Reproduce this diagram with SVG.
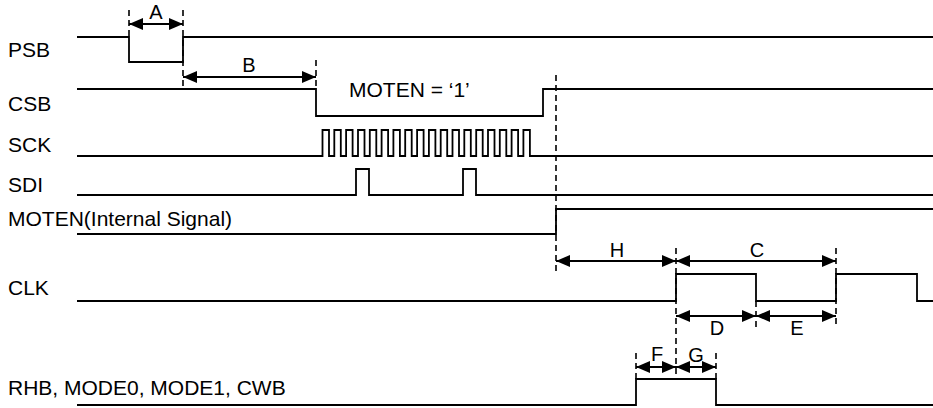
<svg xmlns="http://www.w3.org/2000/svg" width="933" height="408" viewBox="0 0 933 408">
<style>
.sig{fill:none;stroke:#000;stroke-width:1.8}
.dash{fill:none;stroke:#000;stroke-width:1.6;stroke-dasharray:6 4}
.dim{fill:none;stroke:#000;stroke-width:1.8;marker-start:url(#ah);marker-end:url(#ah)}
.lbl{font-family:"Liberation Sans",Arial,sans-serif;font-size:21px;fill:#000}
.let{font-family:"Liberation Sans",Arial,sans-serif;font-size:20px;fill:#000;text-anchor:middle}
</style>
<defs>
<marker id="ah" markerUnits="userSpaceOnUse" markerWidth="14" markerHeight="12" refX="14" refY="6" orient="auto-start-reverse">
<path d="M0,0 L14,6 L0,12 z" fill="#000"/>
</marker>
</defs>
<rect width="933" height="408" fill="#fff"/>
<g id="PSB">
<text class="lbl" x="8" y="56.5">PSB</text>
<path class="sig" d="M77,37 H129 V62 H183 V37 H933"/>
</g>
<g id="CSB">
<text class="lbl" x="8" y="111">CSB</text>
<path class="sig" d="M77,89 H316 V116 H543 V89 H933"/>
<text class="lbl" x="349" y="97">MOTEN = ‘1’</text>
</g>
<g id="SCK">
<text class="lbl" x="8" y="152">SCK</text>
<path class="sig" d="M77,156 H322.5 V130 H329 V156 H334.3 V130 H340.8 V156 H346.1 V130 H352.6 V156 H358 V130 H364.5 V156 H369.8 V130 H376.3 V156 H381.6 V130 H388.1 V156 H393.4 V130 H399.9 V156 H405.2 V130 H411.7 V156 H417.1 V130 H423.6 V156 H428.9 V130 H435.4 V156 H440.7 V130 H447.2 V156 H452.5 V130 H459 V156 H464.3 V130 H470.8 V156 H476.2 V130 H482.7 V156 H488 V130 H494.5 V156 H499.8 V130 H506.3 V156 H511.6 V130 H518.1 V156 H523.4 V130 H529.9 V156 H933"/>
</g>
<g id="SDI">
<text class="lbl" x="8" y="192">SDI</text>
<path class="sig" d="M77,195 H356 V169 H369 V195 H463 V169 H476 V195 H933"/>
</g>
<g id="MOTEN">
<text class="lbl" x="8" y="226">MOTEN(Internal Signal)</text>
<path class="sig" d="M77,234 H556 V209 H933"/>
</g>
<g id="CLK">
<text class="lbl" x="8" y="295">CLK</text>
<path class="sig" d="M77,301 H676 V274 H756 V301 H836 V274 H917 V301 H933"/>
</g>
<g id="RHB">
<text class="lbl" x="8" y="395">RHB, MODE0, MODE1, CWB</text>
<path class="sig" d="M77,405 H636 V379 H716 V405 H933"/>
</g>
<g id="connectors">
<path class="dash" d="M129,10 V37 M183,10 V89 M316,60 V89 M556,75 V273 M676,248 V380 M756,301 V328 M836,248 V328 M636,353 V379 M716,353 V379"/>
<path class="dim" d="M129,24 H183"/>
<path class="dim" d="M183,77 H316"/>
<path class="dim" d="M556,261 H676"/>
<path class="dim" d="M676,261 H836"/>
<path class="dim" d="M676,316 H756"/>
<path class="dim" d="M756,316 H836"/>
<path class="dim" d="M636,367 H676"/>
<path class="dim" d="M676,367 H716"/>
<text class="let" x="156" y="19">A</text>
<text class="let" x="249" y="72">B</text>
<text class="let" x="617" y="257">H</text>
<text class="let" x="757" y="257">C</text>
<text class="let" x="717" y="335">D</text>
<text class="let" x="797" y="335">E</text>
<text class="let" x="657" y="361">F</text>
<text class="let" x="696" y="362">G</text>
</g>
</svg>
